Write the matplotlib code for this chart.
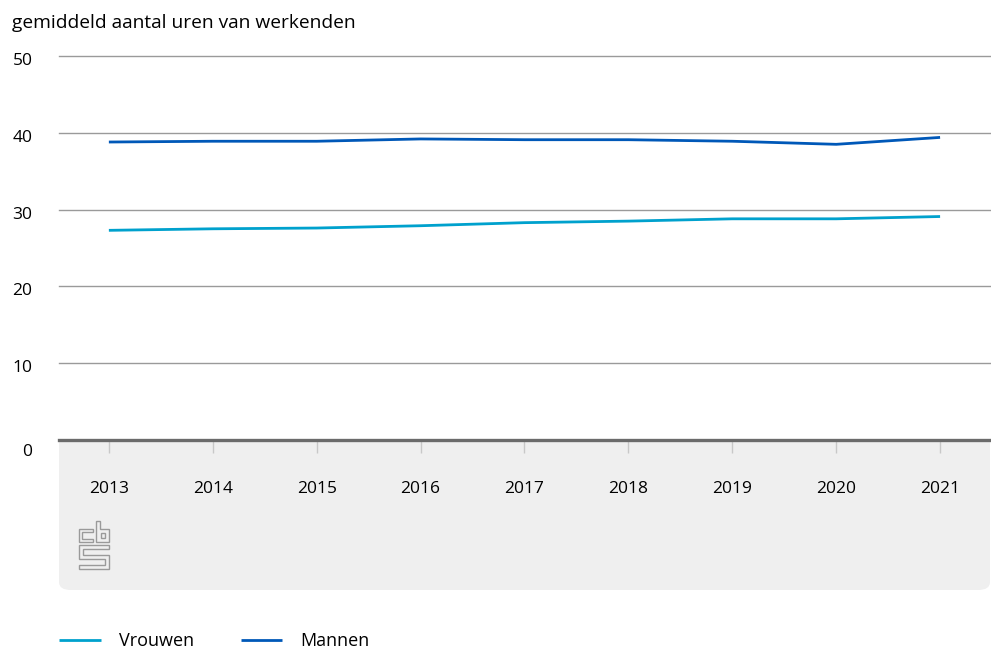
import matplotlib
matplotlib.use("Agg")
import matplotlib.pyplot as plt
from matplotlib.patches import FancyBboxPatch, Polygon
from matplotlib.transforms import ScaledTranslation

years = [2013, 2014, 2015, 2016, 2017, 2018, 2019, 2020, 2021]
vrouwen = [27.3, 27.5, 27.6, 27.9, 28.3, 28.5, 28.8, 28.8, 29.1]
mannen = [38.8, 38.9, 38.9, 39.2, 39.1, 39.1, 38.9, 38.5, 39.4]
y_ticks = [0, 10, 20, 30, 40, 50]
title = "gemiddeld aantal uren van werkenden"

c_vrouwen = "#00a1cd"
c_mannen = "#0058b8"

W, H = 991, 649
plt.rcParams['font.family'] = ['Open Sans', 'DejaVu Sans']

fig = plt.figure(figsize=(W / 100, H / 100), dpi=100)

def fx(px):
    return px / W

def fy(py):
    return 1 - py / H

# grey panel below the axis (rounded bottom corners)
panel = FancyBboxPatch((fx(59), fy(590)), fx(931), (590 - 420) / H,
                       boxstyle="round,pad=0,rounding_size=0.012",
                       transform=fig.transFigure, facecolor="#efefef",
                       edgecolor="none", zorder=-1)
fig.add_artist(panel)

ax = fig.add_axes([fx(59), fy(440), 1 - fx(59), (440 - 56) / H])
ax.set_facecolor("white")

ax.plot(years, vrouwen, color=c_vrouwen, lw=2.0, label="Vrouwen", solid_capstyle="butt")
ax.plot(years, mannen, color=c_mannen, lw=2.0, label="Mannen", solid_capstyle="butt")

ax.set_xlim(2012.52, 2021.49)
ax.set_ylim(0, 50)
ax.set_yticks(y_ticks)
for v in y_ticks[1:]:
    ax.axhline(v, color="#9a9a9a", lw=1.0, zorder=0, clip_on=False)
ax.axhline(0, color="#6b6b6b", lw=2.4, zorder=3, clip_on=False)

for s in ax.spines.values():
    s.set_visible(False)

ax.set_xticks(years)
ax.set_xticklabels([str(y) for y in years])
ax.tick_params(axis="x", length=9.5, width=1, color="#c8c8c8", pad=20, labelsize=12.5)
ax.tick_params(axis="y", length=0, pad=19, labelsize=12.5)
for i, lab in enumerate(ax.get_yticklabels()):
    dy = -10 if i == 0 else -3
    lab.set_transform(lab.get_transform() + ScaledTranslation(0, dy / 100, fig.dpi_scale_trans))

fig.text(fx(12), fy(23), title, fontsize=13.8, va="center", ha="left")

# cbs logo
logo_col = "#9a9a9a"
shapes = [
    [(93, 529), (79, 529), (79, 542), (93, 542), (93, 539), (82, 539), (82, 532), (93, 532)],
    [(96, 521), (100, 521), (100, 529), (109, 529), (109, 542), (96, 542)],
    [(101, 533), (105, 533), (105, 538), (101, 538)],
    [(109, 545), (79, 545), (79, 559), (105, 559), (105, 565), (79, 565), (79, 569),
     (109, 569), (109, 555), (83, 555), (83, 549), (109, 549)],
]
for pts in shapes:
    poly = Polygon([(fx(x), fy(y)) for x, y in pts], closed=True, fill=False,
                   edgecolor=logo_col, lw=1.0, transform=fig.transFigure)
    fig.add_artist(poly)

# legend
fig.legend(loc="center left", bbox_to_anchor=(fx(59), fy(641)), ncol=2, frameon=False,
           fontsize=13, handlelength=2.3, handletextpad=1.0, columnspacing=2.6,
           borderpad=0, borderaxespad=0)

fig.savefig("out.png", dpi=100)
